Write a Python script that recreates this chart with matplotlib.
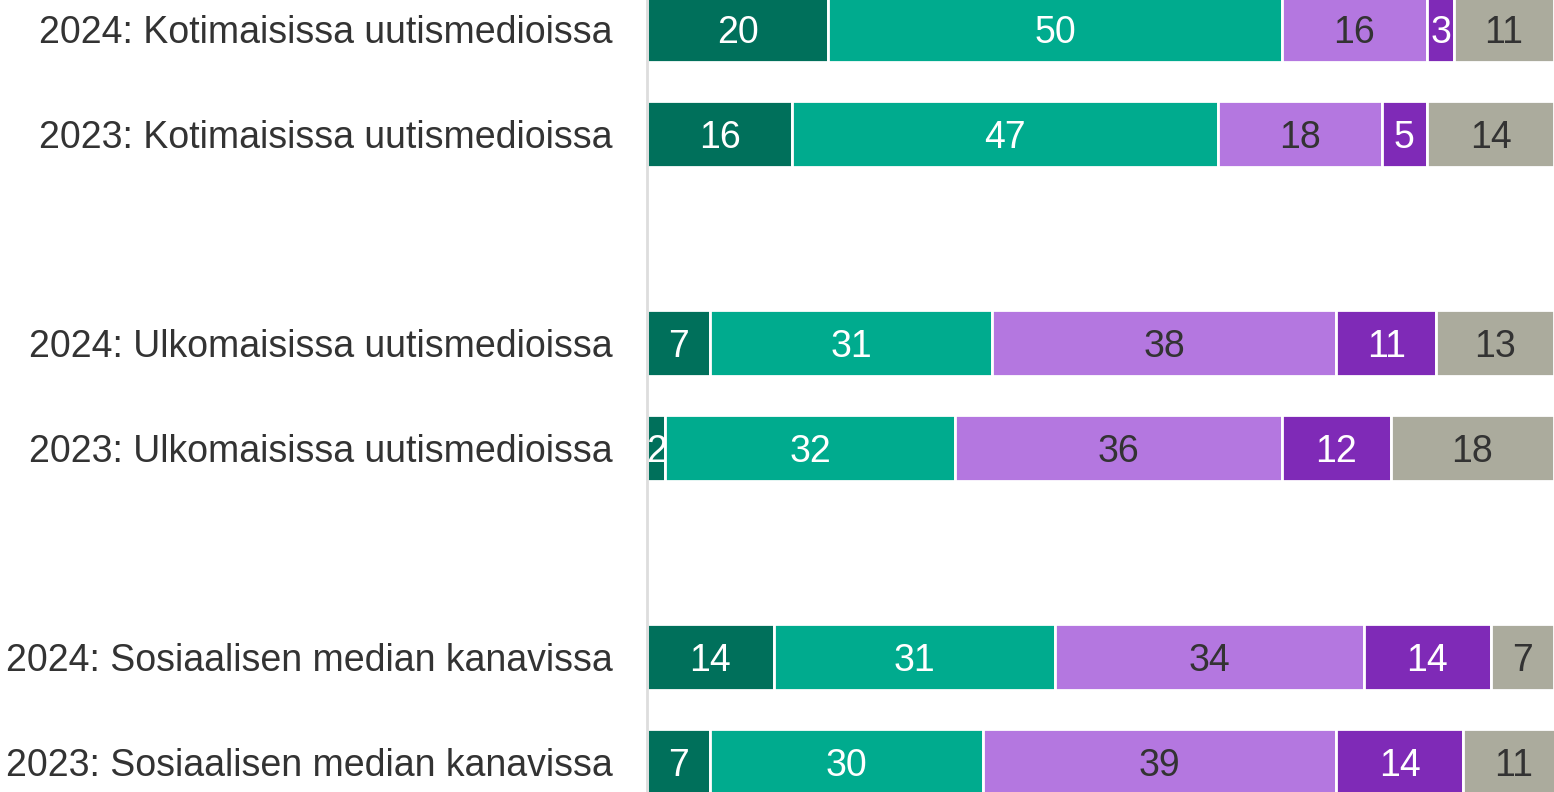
import numpy as np
import matplotlib.pyplot as plt

# Rows from top to bottom (blank rows separate the groups)
labels = ["2024: Kotimaisissa uutismedioissa",
          "2023: Kotimaisissa uutismedioissa",
          "2024: Ulkomaisissa uutismedioissa",
          "2023: Ulkomaisissa uutismedioissa",
          "2024: Sosiaalisen median kanavissa",
          "2023: Sosiaalisen median kanavissa"]
rowPos = [0, 1, 3, 4, 6, 7]

s1 = [20, 16, 7, 2, 14, 7]
s2 = [50, 47, 31, 32, 31, 30]
s3 = [16, 18, 38, 36, 34, 39]
s4 = [3, 5, 11, 12, 14, 14]
s5 = [11, 14, 13, 18, 7, 11]

colors = ["#00705B", "#00AB8E", "#B477E0", "#7F2AB7", "#ABAB9D"]
textColors = ["white", "white", "#333333", "white", "#333333"]

plt.rcParams['font.family'] = ['Liberation Sans', 'DejaVu Sans']

fig = plt.figure(figsize=(15.54, 7.92), dpi=100)
ax = fig.add_axes([647 / 1554, 0, 1 - 647 / 1554, 1])

series = [s1, s2, s3, s4, s5]
left = np.zeros(len(labels))
for vals, c, tc in zip(series, colors, textColors):
    vals = np.array(vals, dtype=float)
    ax.barh(rowPos, vals, left=left, height=0.63, color=c,
            edgecolor="white", linewidth=2)
    for y, l, v in zip(rowPos, left, vals):
        ax.text(l + v / 2, y, "%d" % v, ha="center", va="center_baseline",
                color=tc, fontsize=27)
    left += vals

ax.set_xlim(0, 100)
ax.set_ylim(7.285, -0.28)
ax.set_yticks(rowPos)
ax.set_yticklabels(labels, fontsize=27, color="#333333")
ax.tick_params(axis="y", length=0, pad=25)
ax.set_xticks([])
for side in ["top", "right", "bottom"]:
    ax.spines[side].set_visible(False)
ax.spines["left"].set_color("#dddddd")
ax.spines["left"].set_linewidth(2)

plt.savefig("out.png", dpi=100)
plt.close()
